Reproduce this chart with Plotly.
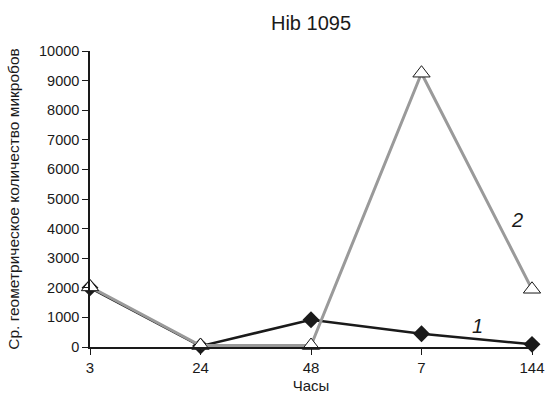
import plotly.graph_objects as go

hours = ["3", "24", "48", "7", "144"]
series1 = [2000, 30, 920, 450, 90]
series2 = [2030, 50, 50, 9250, 1950]
yticks = [0, 1000, 2000, 3000, 4000, 5000, 6000, 7000, 8000, 9000, 10000]

font = "Liberation Sans, Arial, sans-serif"

fig = go.Figure()
fig.add_trace(go.Scatter(
    x=hours, y=series1, mode="lines+markers", name="1",
    line=dict(color="#1a1a1a", width=2.5),
    marker=dict(symbol="diamond", size=13, color="#1a1a1a"),
    cliponaxis=False,
))
fig.add_trace(go.Scatter(
    x=hours, y=series2, mode="lines+markers", name="2",
    line=dict(color="#9a9a9a", width=3),
    marker=dict(symbol="triangle-up", size=15, color="white",
                line=dict(color="#1a1a1a", width=1)),
    cliponaxis=False,
))

fig.add_annotation(x=3.51, y=700, text="<i>1</i>", showarrow=False,
                   font=dict(size=20, color="#1a1a1a", family=font))
fig.add_annotation(x=3.86, y=4300, text="<i>2</i>", showarrow=False,
                   font=dict(size=20, color="#1a1a1a", family=font))

fig.update_layout(
    width=546, height=396,
    margin=dict(l=90, r=14, t=51, b=49),
    paper_bgcolor="white", plot_bgcolor="white",
    showlegend=False,
    font=dict(family=font, size=14, color="#1a1a1a"),
    title=dict(text="Hib 1095", x=(90 + 532) / 2 / 546, xanchor="center",
               y=1 - 23 / 396, yanchor="middle",
               font=dict(size=20, family=font, color="#1a1a1a")),
)
fig.update_xaxes(
    type="category", categoryorder="array", categoryarray=hours,
    range=[0, 4], showgrid=False, zeroline=False, automargin=False,
    showline=True, linecolor="#1a1a1a", linewidth=1.5,
    ticks="outside", ticklen=6, tickcolor="#1a1a1a",
    title=dict(text="Часы", font=dict(size=15), standoff=6),
    tickfont=dict(size=15),
)
fig.update_yaxes(
    range=[0, 10000], tickvals=yticks, ticktext=[str(v) for v in yticks],
    showgrid=False, zeroline=False, automargin=False,
    showline=True, linecolor="#1a1a1a", linewidth=1.5,
    ticks="outside", ticklen=6, tickcolor="#1a1a1a",
    title=dict(text="Ср. геометрическое количество микробов", font=dict(size=15.5), standoff=16),
    tickfont=dict(size=14.5),
)

fig.write_html("out.html")
